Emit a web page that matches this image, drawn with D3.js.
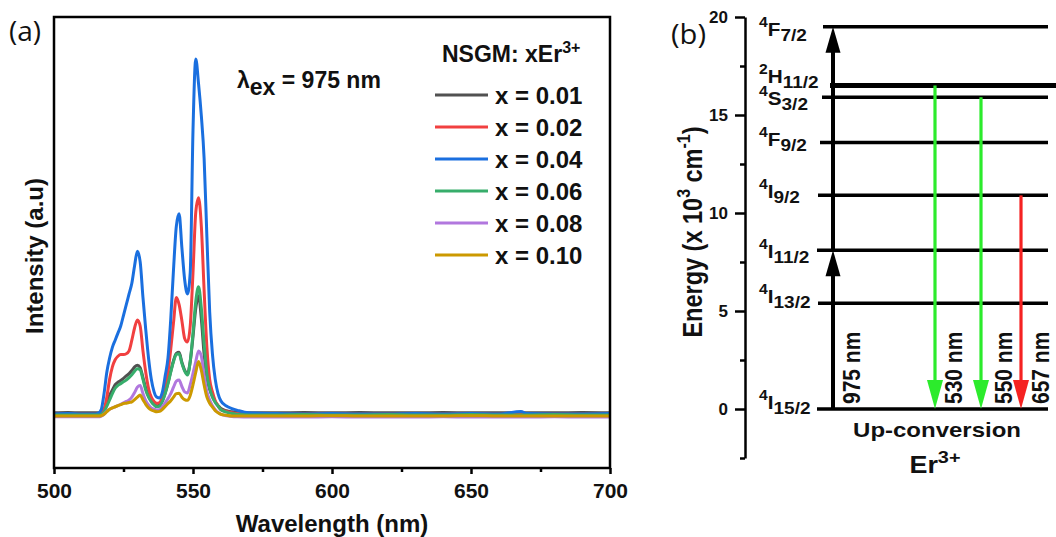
<!DOCTYPE html>
<html><head><meta charset="utf-8">
<script src="https://cdn.jsdelivr.net/npm/d3@7"></script>
<style>
body{margin:0;background:#fff}
svg text{font-family:"Liberation Sans",Arial,sans-serif;font-weight:bold;fill:#111}
</style>
</head><body>
<svg id="chart" width="1056" height="537"></svg>
<script>
// ---------------- DATA: panel (a) emission spectra ----------------
const wavelengths = [500,505,510,515,
  516,517,518,519,520, 521,522,523,524,525, 526,527,528,529,530,
  531,532,533,534,535, 536,537,538,539,540, 541,542,543,544,545,
  546,547,548,549,550, 551,552,553,554,555, 556,557,558,559,560,
  562,564,566,570,
  580,590,600,610,620,630,640,650,660,668,670,680,690,700];

const seriesLabels = ["x = 0.01","x = 0.02","x = 0.04","x = 0.06","x = 0.08","x = 0.10"];
const seriesColors = ["#515151","#F14040","#1A6FDF","#37AD6B","#B177DE","#CC9900"];

const intensity001 = [0.6,0.7,0.6,0.6,
  0.6,0.8,1.5,3.5,5.5, 7,8.5,9.2,9.7,10.3, 11,11.6,12.5,13.5,14,
  13.3,10.5,7.5,5.3,4, 3,2.6,2.8,4,6.2, 9,12.3,15.3,17.3,17.6,
  14.8,12.6,11.5,15,22, 30,33.5,27,17,10.5, 7.2,5.2,3.7,2.7,1.8,
  1.2,0.9,0.7,0.6,
  0.6,0.7,0.6,0.7,0.6,0.6,0.7,0.6,0.6,0.7,0.6,0.6,0.7,0.6];
const intensity002 = [0.2,0.2,0.2,0.2,
  0.3,0.5,1.5,5,10, 13.5,15.5,16.5,17,17, 17.2,18,21,24.5,26.7,
  25,18,12,7.5,5, 3.8,3.3,3.5,5,7.5, 12,18.5,26,33,31,
  26.5,21.5,20.5,25,40, 57,61,53,35,19, 10,6.5,4,2.5,1.5,
  1,0.6,0.4,0.3,
  0.2,0.2,0.3,0.2,0.2,0.2,0.2,0.3,0.2,0.2,0.2,0.2,0.2,0.2];
const intensity004 = [0.3,0.4,0.3,0.3,
  0.5,1.5,6,12,16, 19,21,23,25,28, 31,34,37,42,46,
  43,33,24,16,10, 6.5,5,4.8,6.5,11, 16,27,41,53,56.5,
  47,38,34,40,80, 100,93,84,72,50, 29,17,10,6,4,
  2.5,1.8,1.3,0.6,
  0.4,0.3,0.4,0.3,0.3,0.4,0.3,0.4,0.3,1.0,0.4,0.3,0.3,0.4];
const intensity006 = [0,0,0,0,
  0,0.2,0.8,2.5,4.2, 6,7.5,8.3,8.8,9.3, 9.8,10.5,11.3,12.3,13,
  12.7,10,7,5,3.7, 2.8,2.3,2.5,3.8,6, 8.8,12,15,17,17.2,
  14.5,12.3,11.2,15,23, 32,36,30,20,11.5, 7.5,5,3.5,2.5,1.5,
  0.8,0.4,0.2,0,
  0,0.1,0,0,0.1,0,0,0.1,0,0,0,0.1,0,0];
const intensity008 = [-0.5,-0.5,-0.5,-0.5,
  -0.5,-0.3,0.2,1,1.6, 2,2.3,2.6,3,3.4, 3.8,4.2,5,6.3,7.8,
  8.3,6,4,2.8,2, 1.6,1.4,1.5,2.3,3.4, 4.6,6,7.8,9.5,9.8,
  8,6.5,6.2,8.5,11.7, 15,18,16.5,11,6.5, 4.2,2.6,1.5,0.7,0.2,
  -0.2,-0.4,-0.5,-0.6,
  -0.6,-0.6,-0.5,-0.6,-0.6,-0.6,-0.5,-0.6,-0.6,-0.6,-0.6,-0.5,-0.6,-0.6];
const intensity010 = [-0.3,-0.3,-0.3,-0.3,
  -0.3,-0.2,0.2,0.9,1.6, 2,2.3,2.6,2.9,3.2, 3.3,3.5,3.7,4.3,5,
  5.6,4.3,3,2,1.4, 1.1,0.9,1,1.6,2.4, 3.2,4,5,6,6.1,
  5,4.3,4.1,5.5,8.5, 12,15,12.5,8.4,5, 3.3,2.2,1.2,0.6,0.2,
  -0.1,-0.3,-0.3,-0.3,
  -0.3,-0.3,-0.2,-0.3,-0.3,-0.3,-0.3,-0.2,-0.3,-0.3,-0.3,-0.3,-0.3,-0.3];
const seriesValues = [intensity001,intensity002,intensity004,intensity006,intensity008,intensity010];

const xTickValues = [500,550,600,650,700];
const xMinorTicks = [525,575,625,675];

// ---------------- DATA: panel (b) energy levels ----------------
const levelSup  = ["4","4","4","4","4","4","2","4"];
const levelTerm = ["I","I","I","I","F","S","H","F"];
const levelJ    = ["15/2","13/2","11/2","9/2","9/2","3/2","11/2","7/2"];
const levelEnergy = [0, 5.4, 8.1, 10.9, 13.6, 15.9, 16.5, 19.5]; // x10^3 cm^-1

const excitationSteps = [[0, 8.1],[8.1, 19.5]];          // 975 nm GSA + ESA
const emissionFrom   = [16.5, 15.9, 10.9];                 // to ground 0
const emissionLabels = ["530 nm","550 nm","657 nm"];
const emissionColors = ["#2CEB2C","#2CEB2C","#F52222"];
const excitationLabel = "975 nm";
const energyTicks = [0,5,10,15,20];
const energyMinorTicks = [-2.5,2.5,7.5,12.5,17.5];

// ---------------- LAYOUT ----------------
const svg = d3.select("#chart");

// ===== Panel (a) =====
const A = {l:54, r:610, t:17, b:468};
const x = d3.scaleLinear().domain([500,700]).range([A.l, A.r]);
const y = d3.scaleLinear().domain([-14.9, 111.8]).range([A.b, A.t]);

const gA = svg.append("g");

// curves
const line = d3.line()
  .x((d,i)=>x(wavelengths[i]))
  .y(d=>y(d))
  .curve(d3.curveMonotoneX);
seriesValues.forEach((vals,k)=>{
  gA.append("path").datum(vals)
    .attr("d", line)
    .attr("fill","none")
    .attr("stroke", seriesColors[k])
    .attr("stroke-width", 3)
    .attr("stroke-linejoin","round");
});

// frame
gA.append("rect").attr("x",A.l).attr("y",A.t)
  .attr("width",A.r-A.l).attr("height",A.b-A.t)
  .attr("fill","none").attr("stroke","#000").attr("stroke-width",2.5);

// x axis
const xAxis = d3.axisBottom(x).tickValues(xTickValues).tickSize(6).tickPadding(9).tickSizeOuter(0);
const gx = gA.append("g").attr("transform",`translate(0,${A.b})`).call(xAxis);
gx.select(".domain").remove();
gx.selectAll(".tick line").attr("stroke","#000").attr("stroke-width",2.5);
gx.selectAll(".tick text").attr("font-size",21).attr("font-family","Liberation Sans, Arial").attr("font-weight","bold").attr("fill","#111");
const xMinor = d3.axisBottom(x).tickValues(xMinorTicks).tickSize(4).tickFormat("");
const gxm = gA.append("g").attr("transform",`translate(0,${A.b})`).call(xMinor);
gxm.select(".domain").remove();
gxm.selectAll(".tick line").attr("stroke","#000").attr("stroke-width",2.5);

// axis titles
gA.append("text").attr("x",(A.l+A.r)/2).attr("y",532).attr("text-anchor","middle")
  .attr("font-size",24).text("Wavelength (nm)");
gA.append("text").attr("transform","translate(43,256) rotate(-90)").attr("text-anchor","middle")
  .attr("font-size",24).text("Intensity (a.u)");

// panel letter
svg.append("text").attr("x",9).attr("y",41).attr("font-size",28)
  .style("font-family","'Open Sans','Noto Sans',sans-serif").style("font-weight","normal").text("(a)");

// excitation note
const ex = gA.append("text").attr("x",237).attr("y",88).attr("font-size",23);
ex.append("tspan").text("λ");
ex.append("tspan").attr("dy",7).text("ex");
ex.append("tspan").attr("dy",-7).text(" = 975 nm");

// legend
const lt = gA.append("text").attr("x",442).attr("y",62).attr("font-size",23);
lt.append("tspan").text("NSGM: xEr");
lt.append("tspan").attr("dy",-9).attr("font-size",16).text("3+");
const legY = d3.scalePoint().domain(seriesLabels).range([95,255]);
seriesLabels.forEach((lab,k)=>{
  const yy = legY(lab);
  gA.append("line").attr("x1",435).attr("x2",488).attr("y1",yy).attr("y2",yy)
    .attr("stroke",seriesColors[k]).attr("stroke-width",3);
  gA.append("text").attr("x",495).attr("y",yy+8.5).attr("font-size",24).text(lab);
});

// ===== Panel (b) =====
const B = {axisX:745, t:17, b:458};
const yE = d3.scaleLinear().domain([-2.5,20]).range([B.b, B.t]);
const gB = svg.append("g");
const SX = 1.17; // horizontal text stretch of the original figure

const eAxis = d3.axisLeft(yE).tickValues(energyTicks).tickSize(10).tickPadding(7).tickSizeOuter(0);
const ge = gB.append("g").attr("transform",`translate(${B.axisX},0)`).call(eAxis);
ge.select(".domain").attr("stroke","#000").attr("stroke-width",2.5);
ge.selectAll(".tick line").attr("stroke","#000").attr("stroke-width",2.5);
ge.selectAll(".tick text").attr("font-size",17).attr("font-family","Liberation Sans, Arial").attr("font-weight","bold").attr("fill","#111");
const eMinor = d3.axisLeft(yE).tickValues(energyMinorTicks).tickSize(5).tickFormat("");
const gem = gB.append("g").attr("transform",`translate(${B.axisX},0)`).call(eMinor);
gem.select(".domain").remove();
gem.selectAll(".tick line").attr("stroke","#000").attr("stroke-width",2.5);

// energy axis title
const et = gB.append("text").attr("transform",`translate(702,232) scale(${SX},1) rotate(-90)`)
  .attr("text-anchor","middle").attr("font-size",23.5);
et.append("tspan").text("Energy (x 10");
et.append("tspan").attr("dy",-10).attr("font-size",16).text("3");
et.append("tspan").attr("dy",10).text(" cm");
et.append("tspan").attr("dy",-10).attr("font-size",16).text("-1");
et.append("tspan").attr("dy",10).text(")");

// panel letter
svg.append("text").attr("transform",`translate(671,44) scale(1.08,1)`).attr("font-size",27)
  .style("font-family","'Open Sans','Noto Sans',sans-serif").style("font-weight","normal").text("(b)");

// level lines
const levelStart = [817,818,817,818,820,822,830,823];
const levelEnd   = [1048,1048,1048,1048,1048,1048,1056,1048];
const levelWidth = [3.5,3.5,3.5,3.5,3.5,3.5,5,3.5];
const labelDy    = [0,0,8,3,4,8,-3,9];
levelEnergy.forEach((E,i)=>{
  gB.append("line").attr("x1",levelStart[i]).attr("x2",levelEnd[i])
    .attr("y1",yE(E)).attr("y2",yE(E)).attr("stroke","#000").attr("stroke-width",levelWidth[i]);
  const t = gB.append("text").attr("transform",`translate(759,${yE(E)+labelDy[i]}) scale(1.12,1)`).attr("font-size",18.5);
  t.append("tspan").attr("dy",-9).attr("font-size",14).text(levelSup[i]);
  t.append("tspan").attr("dy",9).text(levelTerm[i]);
  t.append("tspan").attr("dy",5).attr("font-size",17).text(levelJ[i]);
});

// arrows
function arrow(xp, e0, e1, color, w, headL, headW){
  const y0 = yE(e0), y1 = yE(e1);
  const dir = y1 < y0 ? 1 : -1; // 1 = upward
  gB.append("line").attr("x1",xp).attr("x2",xp).attr("y1",y0).attr("y2",y1+dir*headL*0.5)
    .attr("stroke",color).attr("stroke-width",w);
  gB.append("path").attr("d",`M${xp},${y1} L${xp-headW/2},${y1+dir*headL} L${xp+headW/2},${y1+dir*headL} Z`)
    .attr("fill",color);
}
const arrowX = {exc:833, em:[935,981,1021]};
excitationSteps.forEach(s=>arrow(arrowX.exc, s[0], s[1], "#000", 4, 26, 15));
emissionFrom.forEach((E,i)=>arrow(arrowX.em[i], E, 0, emissionColors[i], 3.2, 29, 16));

// rotated wavelength labels
const labelBaseX = [860, 962, 1012, 1049];
[excitationLabel].concat(emissionLabels).forEach((lab,i)=>{
  gB.append("text").attr("transform",`translate(${labelBaseX[i]},404) scale(1.18,1) rotate(-90)`)
    .attr("font-size",21).text(lab);
});

// bottom captions
gB.append("text").attr("transform",`translate(937,437) scale(${SX},1)`).attr("text-anchor","middle")
  .attr("font-size",20.5).text("Up-conversion");
const er = gB.append("text").attr("transform",`translate(935,473) scale(${SX},1)`).attr("text-anchor","middle").attr("font-size",23);
er.append("tspan").text("Er");
er.append("tspan").attr("dy",-10).attr("font-size",17).text("3+");
</script>
</body></html>
